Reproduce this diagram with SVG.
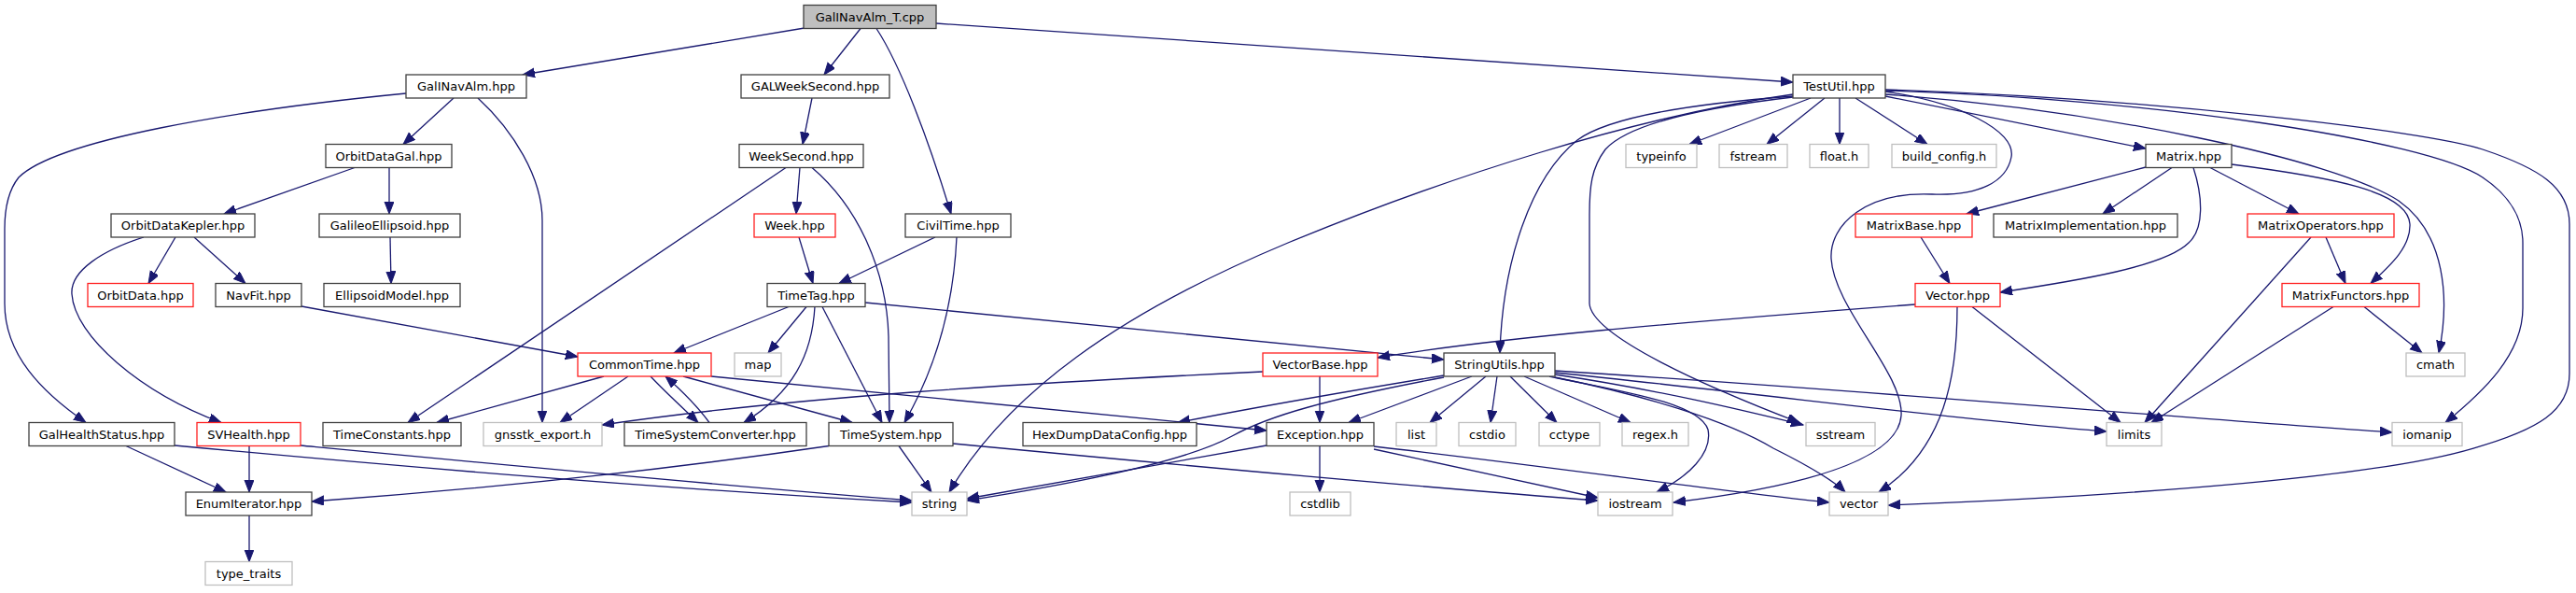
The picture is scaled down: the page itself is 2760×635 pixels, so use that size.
<svg xmlns="http://www.w3.org/2000/svg" width="2760" height="635" viewBox="0 0 2760 635">
<style>
rect{fill:#fff;stroke:#404040;stroke-width:1.3}
.r rect{stroke:#ff2020}
.g rect{stroke:#bfbfbf}
.root rect{fill:#bfbfbf;stroke:#404040}
text{font-family:"DejaVu Sans","Liberation Sans",sans-serif;font-size:13px;text-anchor:middle;fill:#000}
#edges path{fill:none;stroke:#191970;stroke-width:1.3;marker-end:url(#a)}
</style>
<defs>
<marker id="a" markerWidth="14" markerHeight="11" refX="13" refY="5" orient="auto" markerUnits="userSpaceOnUse"><path d="M0,0 L13,5 L0,10 z" fill="#191970" stroke="#191970" stroke-width="1"/></marker>
</defs>
<rect x="0" y="0" width="2760" height="635" style="fill:#fff;stroke:none"/>
<g id="edges">
<path d="M862,30 L560,80"/>
<path d="M922,30.5 L883,80"/>
<path d="M1003,25 L1921,88"/>
<path d="M939,30.5 C965,70 995,150 1019,229"/>
<path d="M486,105 L432,154.5"/>
<path d="M435,100 C250,118 60,150 20,190 C8,205 5,225 5,245 L5,325 C5,380 45,420 92,452.5"/>
<path d="M512,105 C550,140 581,190 581,236 L581,452.5"/>
<path d="M380,179.5 L240,229"/>
<path d="M417,179.5 L417,229"/>
<path d="M188,254 L159,303.5"/>
<path d="M208,254 L263,303.5"/>
<path d="M154,254 C110,268 75,290 77,315 C80,360 150,420 237,452.5"/>
<path d="M418,254 L419,303.5"/>
<path d="M323,328 L619,382"/>
<path d="M135,477.5 L242,527"/>
<path d="M187,477 C400,497 700,523 977,538"/>
<path d="M267,477.5 L267,527"/>
<path d="M322,477 C500,494 750,518 977,536"/>
<path d="M870,105 L860,154.5"/>
<path d="M842,179.5 L437,452.5"/>
<path d="M857,179.5 L853,229"/>
<path d="M870,179.5 C920,222 950,290 952,360 L953,452.5"/>
<path d="M856,254 L871,303.5"/>
<path d="M1002,254 L899,303.5"/>
<path d="M1025,254 C1022,320 1005,390 969,452.5"/>
<path d="M845,328.5 L722,378"/>
<path d="M864,328.5 L823,378"/>
<path d="M873,328.5 C870,380 850,420 797,452.5"/>
<path d="M881,328.5 L945,452.5"/>
<path d="M927,324 L1547,385"/>
<path d="M647,403 L468,452.5"/>
<path d="M673,403 L600,452.5"/>
<path d="M697,403 C715,422 735,440 748,452.5"/>
<path d="M760,452.5 C748,436 730,418 713,403"/>
<path d="M732,403 L913,452.5"/>
<path d="M762,403 L1357,461"/>
<path d="M888,477.5 C700,505 500,525 334,537"/>
<path d="M963,477.5 L998,527"/>
<path d="M1021,475 C1200,492 1500,520 1712,536"/>
<path d="M1353,398 C1100,410 850,425 645,455"/>
<path d="M1414,403 L1414,452.5"/>
<path d="M1547,402 C1450,418 1350,435 1262,452.5"/>
<path d="M1577,403 L1445,452.5"/>
<path d="M1592,403 L1532,452.5"/>
<path d="M1604,403 L1597,452.5"/>
<path d="M1618,403 L1668,452.5"/>
<path d="M1633,403 L1747,452.5"/>
<path d="M1547,404 C1420,428 1360,445 1320,467 C1270,495 1150,518 1036,536"/>
<path d="M1357,477 L1036,534"/>
<path d="M1921,101 C1750,125 1550,190 1380,260 C1200,335 1080,420 1017,527"/>
<path d="M1921,103 C1800,112 1720,128 1690,150 C1640,190 1610,280 1607,378"/>
<path d="M1940,105 L1810,154.5"/>
<path d="M1955,105 L1893,154.5"/>
<path d="M1971,105 L1971,154.5"/>
<path d="M1988,105 L2065,154.5"/>
<path d="M2020,103 L2299,159"/>
<path d="M1921,104 C1800,118 1740,138 1720,160 C1705,180 1703,200 1703,230 L1703,325 C1705,360 1830,415 1928,452.5"/>
<path d="M2020,98 C2100,110 2160,140 2155,168 C2150,195 2120,210 2070,208 C2000,205 1960,240 1962,277 C1965,330 2040,400 2037,445 C2033,500 1900,525 1793,538"/>
<path d="M2020,96 C2300,105 2600,140 2660,160 C2720,180 2753,200 2753,240 L2753,400 C2753,440 2720,460 2650,480 C2550,510 2300,530 2023,541"/>
<path d="M2020,97 C2300,105 2600,150 2660,190 C2690,210 2703,235 2703,260 L2703,330 C2703,380 2660,420 2620,452.5"/>
<path d="M2020,101 C2250,118 2500,170 2570,215 C2620,250 2625,320 2613,378"/>
<path d="M2299,179 L2107,229"/>
<path d="M2327,179.5 L2253,229"/>
<path d="M2368,179.5 L2463,229"/>
<path d="M2391,176 C2500,190 2580,205 2582,240 C2583,265 2560,285 2540,303.5"/>
<path d="M2350,179.5 C2360,210 2362,245 2345,260 C2320,285 2230,300 2143,313"/>
<path d="M2058,254 L2089,303.5"/>
<path d="M2052,326 C1800,345 1600,362 1476,383"/>
<path d="M2113,328.5 L2272,452.5"/>
<path d="M2097,328.5 C2097,400 2085,480 2013,527"/>
<path d="M2492,254 L2513,303.5"/>
<path d="M2476,254 L2298,452.5"/>
<path d="M2500,328.5 L2305,452.5"/>
<path d="M2533,328.5 L2595,378"/>
<path d="M1660,403 C1730,418 1820,430 1830,460 C1835,485 1810,510 1775,527"/>
<path d="M1666,401 C1780,418 1870,440 1932,455"/>
<path d="M1666,399 C1900,423 2100,450 2257,462"/>
<path d="M1666,397 C2000,418 2300,445 2563,463"/>
<path d="M1666,404 C1760,423 1850,450 1900,480 C1940,500 1965,515 1977,527"/>
<path d="M1414,477.5 L1414,527"/>
<path d="M1472,481 L1712,533"/>
<path d="M1472,478 C1650,498 1850,527 1960,538"/>
<path d="M267,552 L267,601.5"/>
</g>
<g id="n0" class="root"><rect x="861" y="5.5" width="142" height="25"/><text x="932" y="22.5">GalINavAlm_T.cpp</text></g>
<g id="n1"><rect x="435" y="80" width="129" height="25"/><text x="499.5" y="97">GalINavAlm.hpp</text></g>
<g id="n2"><rect x="794" y="80" width="159" height="25"/><text x="873.5" y="97">GALWeekSecond.hpp</text></g>
<g id="n3"><rect x="1921" y="80" width="99" height="25"/><text x="1970.5" y="97">TestUtil.hpp</text></g>
<g id="n4"><rect x="349" y="154.5" width="135" height="25"/><text x="416.5" y="171.5">OrbitDataGal.hpp</text></g>
<g id="n5"><rect x="792" y="154.5" width="133" height="25"/><text x="858.5" y="171.5">WeekSecond.hpp</text></g>
<g id="n6" class="g"><rect x="1742" y="154.5" width="76" height="25"/><text x="1780" y="171.5">typeinfo</text></g>
<g id="n7" class="g"><rect x="1842" y="154.5" width="73" height="25"/><text x="1878.5" y="171.5">fstream</text></g>
<g id="n8" class="g"><rect x="1939" y="154.5" width="63" height="25"/><text x="1970.5" y="171.5">float.h</text></g>
<g id="n9" class="g"><rect x="2027" y="154.5" width="112" height="25"/><text x="2083" y="171.5">build_config.h</text></g>
<g id="n10"><rect x="2299" y="154.5" width="92" height="25"/><text x="2345" y="171.5">Matrix.hpp</text></g>
<g id="n11"><rect x="119" y="229" width="154" height="25"/><text x="196" y="246">OrbitDataKepler.hpp</text></g>
<g id="n12"><rect x="342" y="229" width="151" height="25"/><text x="417.5" y="246">GalileoEllipsoid.hpp</text></g>
<g id="n13" class="r"><rect x="808" y="229" width="87" height="25"/><text x="851.5" y="246">Week.hpp</text></g>
<g id="n14"><rect x="970" y="229" width="113" height="25"/><text x="1026.5" y="246">CivilTime.hpp</text></g>
<g id="n15" class="r"><rect x="1988" y="229" width="125" height="25"/><text x="2050.5" y="246">MatrixBase.hpp</text></g>
<g id="n16"><rect x="2136" y="229" width="197" height="25"/><text x="2234.5" y="246">MatrixImplementation.hpp</text></g>
<g id="n17" class="r"><rect x="2408" y="229" width="157" height="25"/><text x="2486.5" y="246">MatrixOperators.hpp</text></g>
<g id="n18" class="r"><rect x="94" y="303.5" width="113" height="25"/><text x="150.5" y="320.5">OrbitData.hpp</text></g>
<g id="n19"><rect x="231" y="303.5" width="92" height="25"/><text x="277" y="320.5">NavFit.hpp</text></g>
<g id="n20"><rect x="347" y="303.5" width="146" height="25"/><text x="420" y="320.5">EllipsoidModel.hpp</text></g>
<g id="n21"><rect x="822" y="303.5" width="105" height="25"/><text x="874.5" y="320.5">TimeTag.hpp</text></g>
<g id="n22" class="r"><rect x="2052" y="303.5" width="91" height="25"/><text x="2097.5" y="320.5">Vector.hpp</text></g>
<g id="n23" class="r"><rect x="2445" y="303.5" width="147" height="25"/><text x="2518.5" y="320.5">MatrixFunctors.hpp</text></g>
<g id="n24" class="r"><rect x="619" y="378" width="143" height="25"/><text x="690.5" y="395">CommonTime.hpp</text></g>
<g id="n25" class="g"><rect x="787" y="378" width="50" height="25"/><text x="812" y="395">map</text></g>
<g id="n26" class="r"><rect x="1353" y="378" width="123" height="25"/><text x="1414.5" y="395">VectorBase.hpp</text></g>
<g id="n27"><rect x="1547" y="378" width="119" height="25"/><text x="1606.5" y="395">StringUtils.hpp</text></g>
<g id="n28" class="g"><rect x="2578" y="378" width="63" height="25"/><text x="2609.5" y="395">cmath</text></g>
<g id="n29"><rect x="31" y="452.5" width="156" height="25"/><text x="109" y="469.5">GalHealthStatus.hpp</text></g>
<g id="n30" class="r"><rect x="211" y="452.5" width="111" height="25"/><text x="266.5" y="469.5">SVHealth.hpp</text></g>
<g id="n31"><rect x="346" y="452.5" width="148" height="25"/><text x="420" y="469.5">TimeConstants.hpp</text></g>
<g id="n32" class="g"><rect x="518" y="452.5" width="127" height="25"/><text x="581.5" y="469.5">gnsstk_export.h</text></g>
<g id="n33"><rect x="669" y="452.5" width="195" height="25"/><text x="766.5" y="469.5">TimeSystemConverter.hpp</text></g>
<g id="n34"><rect x="888" y="452.5" width="133" height="25"/><text x="954.5" y="469.5">TimeSystem.hpp</text></g>
<g id="n35"><rect x="1096" y="452.5" width="186" height="25"/><text x="1189" y="469.5">HexDumpDataConfig.hpp</text></g>
<g id="n36"><rect x="1357" y="452.5" width="115" height="25"/><text x="1414.5" y="469.5">Exception.hpp</text></g>
<g id="n37" class="g"><rect x="1496" y="452.5" width="43" height="25"/><text x="1517.5" y="469.5">list</text></g>
<g id="n38" class="g"><rect x="1563" y="452.5" width="61" height="25"/><text x="1593.5" y="469.5">cstdio</text></g>
<g id="n39" class="g"><rect x="1649" y="452.5" width="65" height="25"/><text x="1681.5" y="469.5">cctype</text></g>
<g id="n40" class="g"><rect x="1738" y="452.5" width="71" height="25"/><text x="1773.5" y="469.5">regex.h</text></g>
<g id="n41" class="g"><rect x="1935" y="452.5" width="74" height="25"/><text x="1972" y="469.5">sstream</text></g>
<g id="n42" class="g"><rect x="2257" y="452.5" width="59" height="25"/><text x="2286.5" y="469.5">limits</text></g>
<g id="n43" class="g"><rect x="2563" y="452.5" width="75" height="25"/><text x="2600.5" y="469.5">iomanip</text></g>
<g id="n44"><rect x="199" y="527" width="135" height="25"/><text x="266.5" y="544">EnumIterator.hpp</text></g>
<g id="n45" class="g"><rect x="977" y="527" width="59" height="25"/><text x="1006.5" y="544">string</text></g>
<g id="n46" class="g"><rect x="1382" y="527" width="65" height="25"/><text x="1414.5" y="544">cstdlib</text></g>
<g id="n47" class="g"><rect x="1712" y="527" width="80" height="25"/><text x="1752" y="544">iostream</text></g>
<g id="n48" class="g"><rect x="1960" y="527" width="63" height="25"/><text x="1991.5" y="544">vector</text></g>
<g id="n49" class="g"><rect x="220" y="601.5" width="93" height="25"/><text x="266.5" y="618.5">type_traits</text></g>
</svg>
